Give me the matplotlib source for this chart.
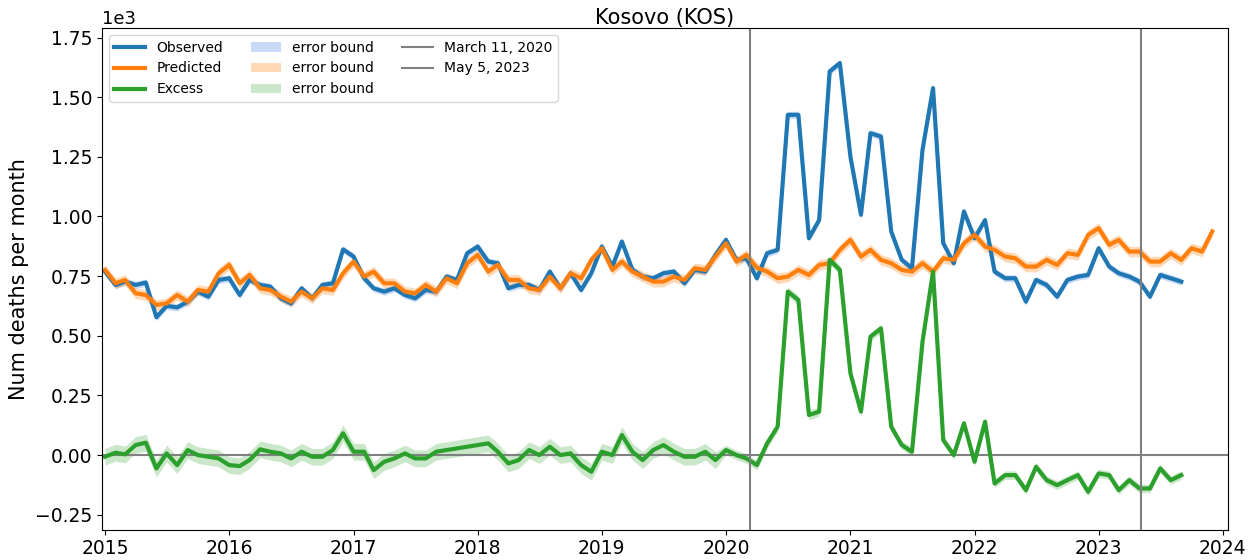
import numpy as np
import pandas as pd
import matplotlib
matplotlib.use('Agg')
import matplotlib.pyplot as plt
import matplotlib.dates as mdates

# monthly deaths, Jan 2015 onwards
observed = [769, 713, 727, 713, 723, 578, 625, 619, 643, 685, 664, 734,
            741, 671, 734, 713, 706, 657, 636, 699, 657, 713, 720, 862,
            832, 741, 699, 685, 699, 671, 657, 692, 685, 748, 734, 846,
            874, 811, 804, 699, 713, 713, 692, 769, 699, 762, 692, 762,
            874, 790, 895, 776, 748, 741, 762, 769, 720, 776, 769, 839,
            902, 818, 825, 741, 846, 860, 1426, 1426, 909, 985, 1608, 1643,
            1251, 1007, 1349, 1335, 937, 818, 783, 1279, 1538, 888, 804, 1021,
            909, 985, 769, 741, 741, 643, 734, 713, 664, 734, 748, 755,
            867, 790, 762, 748, 727, 664, 755, 741, 727]

predicted = [776, 720, 734, 678, 671, 629, 636, 671, 643, 692, 685, 762,
             797, 720, 755, 699, 692, 664, 643, 685, 657, 699, 692, 762,
             811, 748, 769, 720, 720, 685, 678, 713, 685, 741, 720, 804,
             839, 769, 797, 734, 734, 699, 692, 748, 699, 762, 741, 818,
             867, 776, 811, 769, 748, 727, 727, 748, 734, 783, 776, 832,
             888, 811, 839, 785, 769, 741, 748, 776, 755, 797, 804, 860,
             902, 832, 860, 818, 804, 776, 769, 804, 769, 825, 818, 888,
             923, 874, 860, 832, 825, 790, 790, 818, 797, 846, 839, 923,
             951, 881, 902, 853, 853, 811, 811, 846, 818, 867, 853, 937]

excess = [-7, 10, 3, 42, 52, -56, 7, -42, 21, 0, -7, -14,
          -42, -46, -21, 24, 14, 7, -14, 14, -7, -7, 21, 91,
          14, 14, -63, -28, -14, 7, -14, -14, 14, 21, 28, 35,
          42, 49, 14, -35, -21, 21, 0, 35, 0, 7, -42, -70,
          14, 0, 84, 14, -21, 21, 42, 14, -7, -7, 14, -21,
          21, 0, -14, -42, 49, 119, 685, 650, 168, 182, 818, 776,
          343, 182, 496, 531, 119, 42, 14, 475, 769, 63, 0, 133,
          -28, 140, -119, -84, -84, -147, -49, -105, -126, -105, -84, -154,
          -77, -84, -147, -105, -140, -140, -56, -105, -84]

# half widths of the error bands
observed_err = 15
predicted_err = 22
excess_err_by_year = [35, 35, 35, 35, 35, 20, 18, 18, 18]

months = pd.date_range('2015-01-01', periods=len(predicted), freq='MS')
events = {'March 11, 2020': '2020-03-11', 'May 5, 2023': '2023-05-05'}

obs = np.array(observed, dtype=float)
pred = np.array(predicted, dtype=float)
exc = np.array(excess, dtype=float)
t_obs = months[:len(obs)]
exc_err = np.array([excess_err_by_year[d.year - 2015] for d in t_obs])

fig = plt.figure(figsize=(12.59, 5.6), dpi=100)
ax = fig.add_axes([0.081, 0.054, 0.894, 0.896])

h_obs, = ax.plot(t_obs, obs, color='tab:blue', lw=3, label='Observed')
h_pred, = ax.plot(months, pred, color='tab:orange', lw=3, label='Predicted')
h_exc, = ax.plot(t_obs, exc, color='tab:green', lw=3, label='Excess')

f_obs = ax.fill_between(t_obs, obs - observed_err, obs + observed_err,
                        color='cornflowerblue', alpha=0.35, lw=0, label='error bound')
f_pred = ax.fill_between(months, pred - predicted_err, pred + predicted_err,
                         color='tab:orange', alpha=0.3, lw=0, label='error bound')
f_exc = ax.fill_between(t_obs, exc - exc_err, exc + exc_err,
                        color='tab:green', alpha=0.25, lw=0, label='error bound')

ax.axhline(0, color='gray', lw=1.5, zorder=1)
vl = []
for lab, d in events.items():
    vl.append(ax.axvline(pd.Timestamp(d), color='gray', lw=1.5, label=lab))

ax.set_xlim(pd.Timestamp('2014-12-23'), pd.Timestamp('2024-01-15'))
ax.set_ylim(-313, 1790)
ax.xaxis.set_major_locator(mdates.YearLocator())
ax.xaxis.set_major_formatter(mdates.DateFormatter('%Y'))
ax.ticklabel_format(axis='y', style='sci', scilimits=(3, 3))
ax.yaxis.get_offset_text().set_fontsize(13)
ax.tick_params(labelsize=13.5)

ax.set_title('Kosovo (KOS)', fontsize=15, pad=3)
ax.set_ylabel('Num deaths per month', fontsize=15)

ax.legend(handles=[h_obs, h_pred, h_exc, f_obs, f_pred, f_exc] + vl,
          ncol=3, loc='upper left', fontsize=10, handlelength=2.2,
          framealpha=0.8)

fig.savefig('out.png', dpi=100)
